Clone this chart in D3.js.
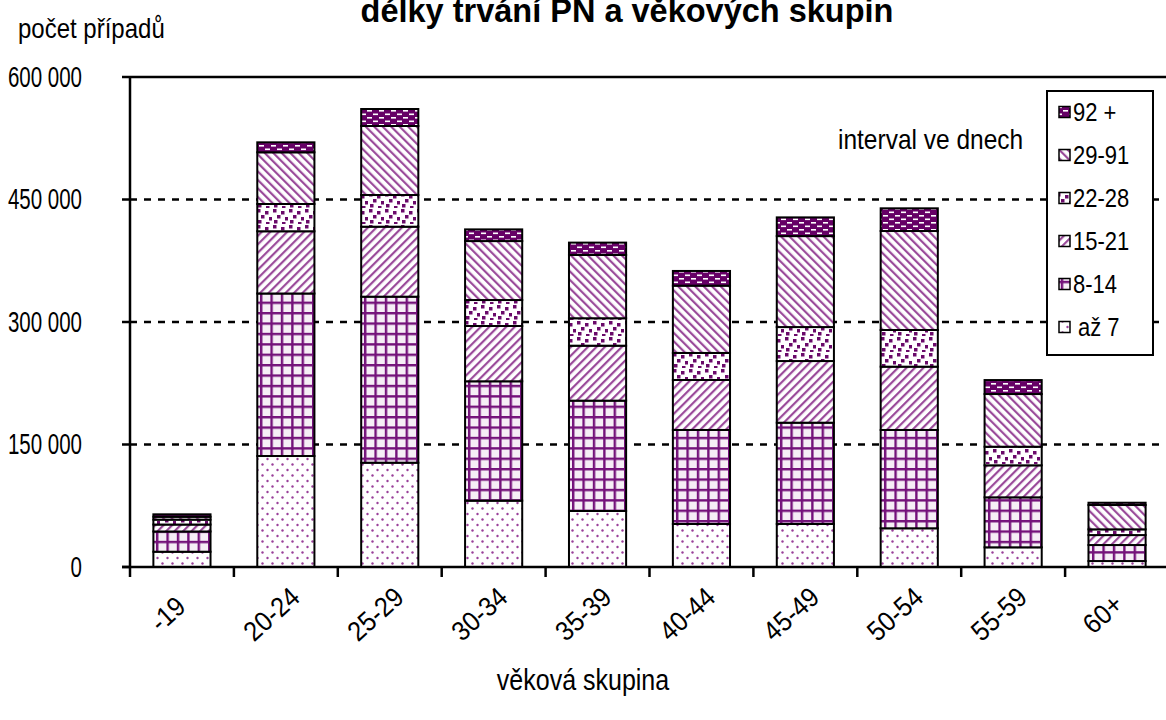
<!DOCTYPE html>
<html><head><meta charset="utf-8">
<script src="https://cdn.jsdelivr.net/npm/d3@7"></script>
<style>
body{margin:0;background:#fff;}
svg text{font-family:"Liberation Sans",Arial,sans-serif;fill:#000;}
</style></head>
<body><svg id="c" width="1166" height="720"></svg>
<script>
const categories = ["-19","20-24","25-29","30-34","35-39","40-44","45-49","50-54","55-59","60+"];
const seriesNames = ["až 7","8-14","15-21","22-28","29-91","92 +"];
const az7    = [18700,135900,127700, 81200, 68600, 52700, 52700, 47400,24100, 7300];
const d8_14  = [24800,199000,203300,146200,135100,115100,124000,120400,61200,19600];
const d15_21 = [ 8500, 76200, 85700, 67700, 67300, 61200, 75500, 77500,39200,12200];
const d22_28 = [ 6000, 33400, 38800, 31800, 33600, 33100, 41600, 44900,22800, 7000];
const d29_91 = [ 3500, 63300, 84500, 72200, 77500, 82400,111400,121200,64500,29800];
const d92    = [ 3000, 12200, 20800, 14300, 15100, 18000, 22900, 27800,17100, 2800];
const yTicks = [0,150000,300000,450000,600000];
const seriesValues = [az7,d8_14,d15_21,d22_28,d29_91,d92];

const svg = d3.select("#c");
const P = "#660066";
const defs = svg.append("defs");
function pat(id,w,h){return defs.append("pattern").attr("id",id).attr("patternUnits","userSpaceOnUse").attr("width",w).attr("height",h);}
let p0 = pat("p0",10,11);
p0.append("rect").attr("width",10).attr("height",11).attr("fill","#fff");
p0.append("circle").attr("cx",2.5).attr("cy",2.5).attr("r",1.2).attr("fill","#9a409a");
p0.append("circle").attr("cx",7.5).attr("cy",8).attr("r",1.2).attr("fill","#9a409a");
let p1 = pat("p1",10.4,10.4);
p1.append("rect").attr("width",10.4).attr("height",10.4).attr("fill","#f6eef6");
p1.append("rect").attr("x",0).attr("y",0).attr("width",10.4).attr("height",2.4).attr("fill","#74127a");
p1.append("rect").attr("x",0).attr("y",0).attr("width",2.4).attr("height",10.4).attr("fill","#74127a");
let p2 = pat("p2",6,6).attr("patternTransform","rotate(45)");
p2.append("rect").attr("width",6).attr("height",6).attr("fill","#fff");
p2.append("rect").attr("width",2.2).attr("height",6).attr("fill","#9a4a9a");
let p4 = pat("p4",6,6).attr("patternTransform","rotate(-45)");
p4.append("rect").attr("width",6).attr("height",6).attr("fill","#fff");
p4.append("rect").attr("width",2.2).attr("height",6).attr("fill","#9a4a9a");
let p3 = pat("p3",16,16);
p3.append("rect").attr("width",16).attr("height",16).attr("fill","#fff");
[[1,1],[9,3],[5,7],[13,9],[2,12],[10,14]].forEach(([x,y])=>p3.append("rect").attr("x",x).attr("y",y).attr("width",3.5).attr("height",3.5).attr("fill","#6a0a6a"));
let p5 = pat("p5",12,7);
p5.append("rect").attr("width",12).attr("height",7).attr("fill",P);
p5.append("rect").attr("x",1).attr("y",1.5).attr("width",5).attr("height",1.6).attr("fill","#fff");
p5.append("rect").attr("x",7).attr("y",5).attr("width",5).attr("height",1.6).attr("fill","#fff");
const fills = ["url(#p0)","url(#p1)","url(#p2)","url(#p3)","url(#p4)","url(#p5)"];

const x = d3.scaleBand().domain(categories).range([130,1169]).paddingInner(0.45).paddingOuter(0.225);
const y = d3.scaleLinear().domain([0,600000]).range([567,77]);

// gridlines
svg.append("g").selectAll("line").data(yTicks.filter(d=>d>0)).join("line")
  .attr("x1",130).attr("x2",1166).attr("y1",d=>y(d)).attr("y2",d=>y(d))
  .attr("stroke","#000").attr("stroke-width",2.5).attr("stroke-dasharray",d=>d===600000?"none":"7,7");

// stacked bars
const table = categories.map((c,i)=>{const o={cat:c}; seriesNames.forEach((s,j)=>o[s]=seriesValues[j][i]); return o;});
const stack = d3.stack().keys(seriesNames)(table);
const g = svg.append("g");
stack.forEach((layer,j)=>{
  g.selectAll(null).data(layer).join("rect")
   .attr("x",d=>x(d.data.cat)).attr("width",x.bandwidth())
   .attr("y",d=>y(d[1])).attr("height",d=>y(d[0])-y(d[1]))
   .attr("fill",fills[j]).attr("stroke","#000").attr("stroke-width",2);
});

// axes
svg.append("line").attr("x1",130).attr("x2",130).attr("y1",y(600000)).attr("y2",y(0)).attr("stroke","#000").attr("stroke-width",2.5);
svg.append("line").attr("x1",122).attr("x2",1166).attr("y1",y(0)).attr("y2",y(0)).attr("stroke","#000").attr("stroke-width",2.5);
svg.append("g").selectAll("line").data(yTicks).join("line")
  .attr("x1",122).attr("x2",130).attr("y1",d=>y(d)).attr("y2",d=>y(d)).attr("stroke","#000").attr("stroke-width",2.5);
const fmt = d=> d3.format(",")(d).replace(/,/g," ");
svg.append("g").selectAll("text").data(yTicks).join("text")
  .attr("transform",d=>`translate(82,${y(d)+9.5}) scale(1,1.4)`)
  .attr("text-anchor","end").attr("font-size",20.5).text(fmt);
const step = x.step();
svg.append("g").selectAll("line").data(d3.range(categories.length+1)).join("line")
  .attr("x1",i=>130+i*step).attr("x2",i=>130+i*step).attr("y1",y(0)).attr("y2",y(0)+10)
  .attr("stroke","#000").attr("stroke-width",2.5);
svg.append("g").selectAll("text").data(categories).join("text")
  .attr("transform",d=>`translate(${x(d)+x.bandwidth()/2-8},${621}) rotate(-42) scale(1,1.1)`)
  .attr("text-anchor","middle").attr("font-size",25).text(d=>d);

// titles
svg.append("text").attr("transform",`translate(627,22)`).attr("text-anchor","middle")
  .attr("font-size",32.5).attr("font-weight","bold").text("délky trvání PN a věkových skupin");
svg.append("text").attr("transform",`translate(18,38) scale(1,1.15)`).attr("font-size",24).text("počet případů");
svg.append("text").attr("transform",`translate(583,690) scale(1,1.15)`).attr("text-anchor","middle").attr("font-size",25).text("věková skupina");
svg.append("text").attr("transform",`translate(838,149) scale(1,1.15)`).attr("font-size",24.5).text("interval ve dnech");

// legend
const lg = svg.append("g");
lg.append("rect").attr("x",1047).attr("y",91).attr("width",106).attr("height",264).attr("fill","#fff").attr("stroke","#000").attr("stroke-width",2);
const order = seriesNames.slice().reverse();
order.forEach((s,i)=>{
  const cy = 112 + i*43;
  const j = seriesNames.indexOf(s);
  lg.append("rect").attr("x",1059).attr("y",cy-5.5).attr("width",11).attr("height",11).attr("fill",fills[j]).attr("stroke","#000").attr("stroke-width",1.5);
  lg.append("text").attr("transform",`translate(${s==="až 7"?1078:1073},${cy+8.5}) scale(1,1.15)`).attr("font-size",22).text(s);
});
</script></body></html>
